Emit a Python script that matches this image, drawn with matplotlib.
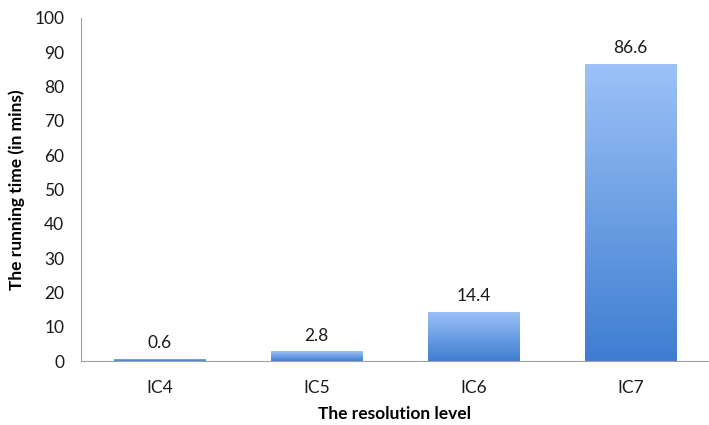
import numpy as np
import matplotlib.pyplot as plt
from matplotlib.colors import LinearSegmentedColormap

# data
levels = ["IC4", "IC5", "IC6", "IC7"]
run_times = [0.6, 2.8, 14.4, 86.6]
y_ticks = [0, 10, 20, 30, 40, 50, 60, 70, 80, 90, 100]

plt.rcParams['font.family'] = ['Lato', 'DejaVu Sans']

fig = plt.figure(figsize=(7.09, 4.25), dpi=100)
ax = fig.add_axes([81 / 709, 1 - 361 / 425, 628 / 709, 343 / 425])

x = np.arange(len(levels))
bars = ax.bar(x, run_times, width=0.58, color="none", edgecolor="none", zorder=2)

# vertical gradient fill, light on top, darker at the base
grad_cmap = LinearSegmentedColormap.from_list("bar_grad", ["#3f7dd1", "#9cc2f7"])
grad = np.linspace(0, 1, 256).reshape(-1, 1)
for b in bars:
    x0, y0 = b.get_x(), b.get_y()
    w, h = b.get_width(), b.get_height()
    im = ax.imshow(grad, cmap=grad_cmap, origin="lower", aspect="auto",
                   extent=(x0, x0 + w, y0, y0 + h), zorder=2)
    im.set_clip_path(b)

for xi, v in zip(x, run_times):
    ax.text(xi, v + 2.2, f"{v}", ha="center", va="bottom", fontsize=12.5, color="#1a1a1a")

ax.set_xlim(-0.5, len(levels) - 0.5)
ax.set_ylim(0, 100)
ax.set_xticks(x)
ax.set_xticklabels(levels)
ax.set_yticks(y_ticks)

ax.spines["top"].set_visible(False)
ax.spines["right"].set_visible(False)
ax.spines["left"].set_color("#a0a0a0")
ax.spines["bottom"].set_color("#a0a0a0")
ax.tick_params(axis="y", length=0, pad=12, labelsize=12.5, colors="#1a1a1a")
ax.tick_params(axis="x", length=0, pad=14, labelsize=12.5, colors="#1a1a1a")

ax.set_xlabel("The resolution level", fontsize=12.5, fontweight="bold", labelpad=7)
ax.set_ylabel("The running time (in mins)", fontsize=12.5, fontweight="bold", labelpad=7)

fig.savefig("out.png", dpi=100)
